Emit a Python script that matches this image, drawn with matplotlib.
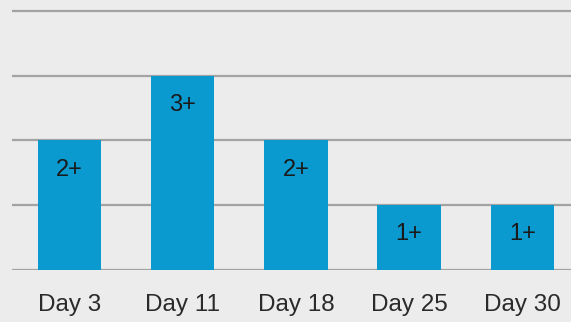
import matplotlib.pyplot as plt
import numpy as np

days = ["Day 3", "Day 11", "Day 18", "Day 25", "Day 30"]
values = [2, 3, 2, 1, 1]
bar_labels = ["2+", "3+", "2+", "1+", "1+"]

bg = "#ececec"
bar_color = "#0a9ad0"

fig = plt.figure(figsize=(5.71, 3.22), dpi=100, facecolor=bg)
ax = fig.add_axes([12 / 571, 1 - 270 / 322, 1 - 12 / 571, (270 - 8) / 322])
ax.set_facecolor(bg)

x = np.arange(len(days))
bars = ax.bar(x, values, width=0.56, color=bar_color, zorder=3)

for rect, lab in zip(bars, bar_labels):
    ax.annotate(lab, (rect.get_x() + rect.get_width() / 2, rect.get_height()),
                xytext=(0, -21), textcoords="offset points", ha="center", va="center",
                fontsize=17, color="#1a1a1a", family="Liberation Sans", zorder=4)

ax.set_xlim(-0.507, 4.43)
ax.set_ylim(0, 4.046)
ax.set_yticks([0, 1, 2, 3, 4])
ax.yaxis.grid(True, color="#a3a3a3", linewidth=1.6, zorder=1)
ax.set_yticklabels([])
ax.tick_params(axis="y", length=0)
ax.set_xticks(x)
ax.set_xticklabels(days, fontsize=17.5, family="Liberation Sans", color="#2a2a2a")
ax.tick_params(axis="x", length=0, pad=17)
for s in ax.spines.values():
    s.set_visible(False)

fig.savefig("out.png", dpi=100, facecolor=bg)
